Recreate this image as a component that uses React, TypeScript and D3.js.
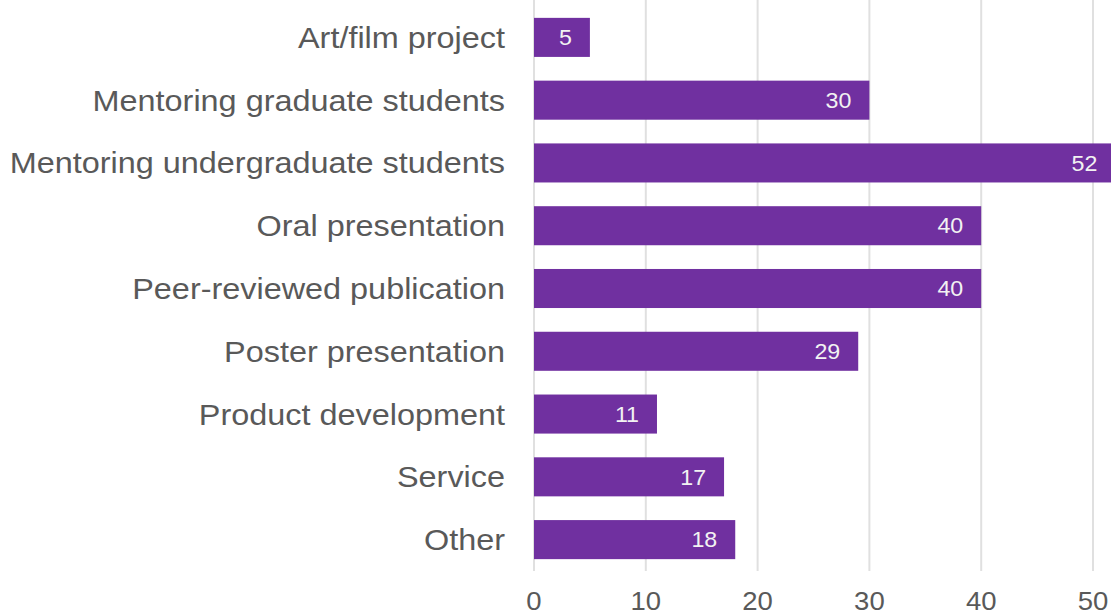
import React from "react";
import * as d3 from "d3";

const categories = [
  "Art/film project",
  "Mentoring graduate students",
  "Mentoring undergraduate students",
  "Oral presentation",
  "Peer-reviewed publication",
  "Poster presentation",
  "Product development",
  "Service",
  "Other",
];
const values = [5, 30, 52, 40, 40, 29, 11, 17, 18];
const ticks = [0, 10, 20, 30, 40, 50];

const W = 1111;
const H = 616;

export default function App() {
  const x = d3.scaleLinear().domain([0, 50]).range([534, 1093]);
  const y = d3
    .scaleBand<string>()
    .domain(categories)
    .range([6, 571])
    .paddingInner(0.378)
    .paddingOuter(0.189);
  const font = "'Liberation Sans', Arial, sans-serif";
  return (
    <svg
      width={W}
      height={H}
      style={{ position: "absolute", left: 0, top: 0, background: "#fff" }}
    >
      {ticks.map((t) => (
        <line
          key={"g" + t}
          x1={x(t)}
          x2={x(t)}
          y1={0}
          y2={571}
          stroke="#e0e0e0"
          strokeWidth={2}
        />
      ))}
      {categories.map((c, i) => (
        <g key={c}>
          <rect
            x={x(0)}
            y={y(c)!}
            width={x(values[i]) - x(0)}
            height={y.bandwidth()}
            fill="#7030a0"
          />
          <text
            transform={`translate(${x(values[i]) - 18},${y(c)! + y.bandwidth() / 2}) scale(1.08,1)`}
            dy="0.36em"
            textAnchor="end"
            fontFamily={font}
            fontSize={21.5}
            fill="#f2f2f2"
          >
            {values[i]}
          </text>
          <text
            transform={`translate(505,${y(c)! + y.bandwidth() / 2}) scale(1.08,1)`}
            dy="0.35em"
            textAnchor="end"
            fontFamily={font}
            fontSize={30}
            fill="#595959"
          >
            {c}
          </text>
        </g>
      ))}
      {ticks.map((t) => (
        <text
          key={"t" + t}
          transform={`translate(${x(t)},610) scale(1.1,1)`}
          textAnchor="middle"
          fontFamily={font}
          fontSize={25}
          fill="#595959"
        >
          {t}
        </text>
      ))}
    </svg>
  );
}
